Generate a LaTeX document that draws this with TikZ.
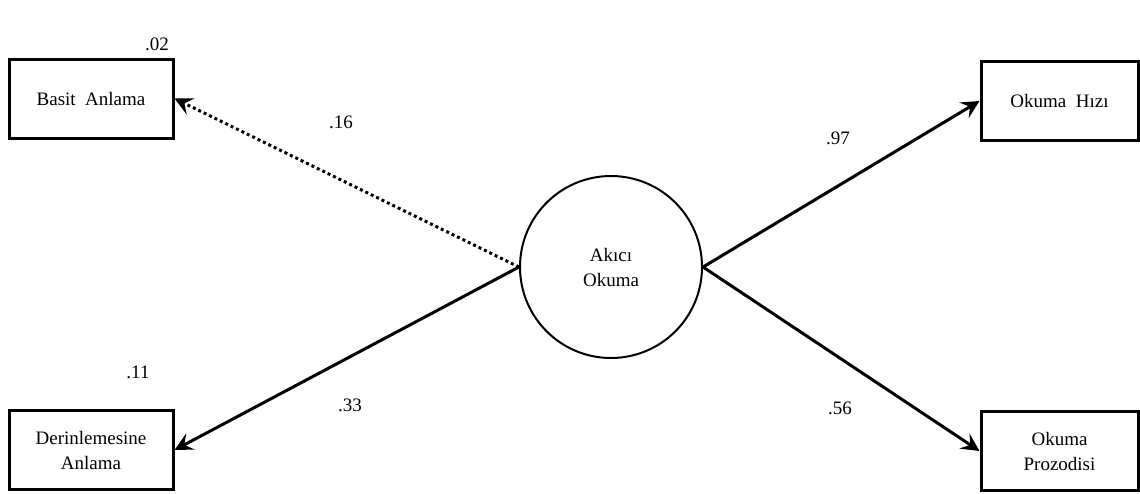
\documentclass[tikz,border=0pt]{standalone}
\usepackage{fontspec}
\setmainfont{Liberation Serif}
\usetikzlibrary{shapes, arrows.meta}

\begin{document}
\begin{tikzpicture}[
x=1pt, y=-1pt,
font=\fontsize{19}{25}\selectfont,
block/.style={rectangle, draw=black, line width=3pt, text centered,
 align=center, minimum width=164pt, minimum height=79pt, inner sep=0pt},
block-right/.style={block, minimum width=157pt},
latent/.style={circle, draw=black, line width=2pt, align=center,
 minimum size=182pt, inner sep=0pt},
coef/.style={inner sep=0pt},
line/.style={draw, line width=3pt, -{Stealth[length=18pt, width=18pt, inset=7pt]}},
line-dotted/.style={line, dash pattern=on 3pt off 3pt}
]
\useasboundingbox (0,0) rectangle (1140,493);

\node [latent] (akici) at (611,267) {Ak\i c\i\\Okuma};
\node [block] (basit) at (91,98.5) {Basit\ \ Anlama};
\node [block] (derin) at (91,450) {Derinlemesine\\Anlama};
\node [block-right] (hiz) at (1059.5,101) {Okuma\ \ H\i z\i};
\node [block-right] (prozodi) at (1059.5,451) {Okuma\\Prozodisi};

% coefficients
\node [coef] (r-basit) at (157,44) {.02};
\node [coef] (r-derin) at (138,372) {.11};
\node [coef] (c-basit) at (341,122) {.16};
\node [coef] (c-derin) at (350,405) {.33};
\node [coef] (c-hiz) at (838,138) {.97};
\node [coef] (c-prozodi) at (840,408) {.56};

\path [line-dotted] (akici.west) -- (basit.east);
\path [line] (akici.west) -- (derin.east);
\path [line] (akici.east) -- (hiz.west);
\path [line] (akici.east) -- (prozodi.west);
\end{tikzpicture}
\end{document}
